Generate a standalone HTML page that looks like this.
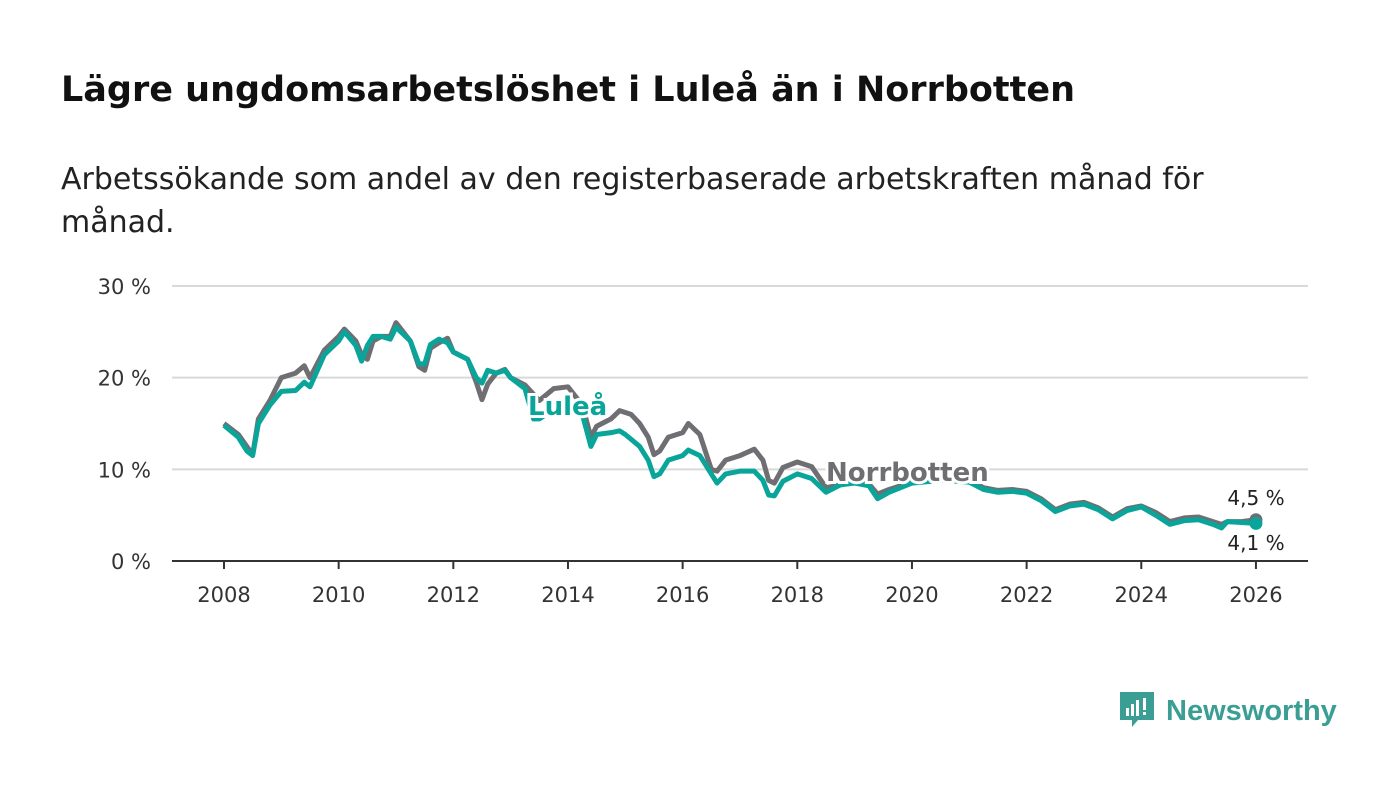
<!DOCTYPE html>
<html><head><meta charset="utf-8"><style>
body{margin:0;width:1400px;height:794px;background:#fff;font-family:"DejaVu Sans","Liberation Sans",sans-serif;overflow:hidden}
h1{position:absolute;left:61px;top:70px;margin:0;font-size:35px;font-weight:bold;color:#111;letter-spacing:0px;white-space:nowrap}
p{position:absolute;left:61px;top:158px;margin:0;font-size:30px;line-height:43px;color:#222;width:1240px}
svg{position:absolute;left:0;top:0}
</style></head><body>
<h1>Lägre ungdomsarbetslöshet i Luleå än i Norrbotten</h1>
<p>Arbetssökande som andel av den registerbaserade arbetskraften månad för månad.</p>
<svg id="c" width="1400" height="794"></svg>
<script>
const yearsL=[2008,2008.25,2008.4,2008.5,2008.6,2008.8,2009,2009.25,2009.4,2009.5,2009.75,2010,2010.1,2010.3,2010.4,2010.5,2010.6,2010.75,2010.9,2011,2011.25,2011.4,2011.5,2011.6,2011.75,2011.9,2012,2012.25,2012.4,2012.5,2012.6,2012.75,2012.9,2013,2013.25,2013.4,2013.5,2013.75,2014,2014.25,2014.4,2014.5,2014.75,2014.9,2015,2015.25,2015.4,2015.5,2015.6,2015.75,2016,2016.1,2016.3,2016.5,2016.6,2016.75,2017,2017.25,2017.4,2017.5,2017.6,2017.75,2018,2018.25,2018.5,2018.75,2019,2019.25,2019.4,2019.6,2020,2020.5,2021,2021.25,2021.5,2021.75,2022,2022.25,2022.5,2022.75,2023,2023.25,2023.5,2023.75,2024,2024.25,2024.5,2024.75,2025,2025.25,2025.4,2025.5,2025.75,2026];
const lulea=[14.8,13.5,12,11.5,15,17,18.5,18.6,19.5,19,22.5,24,25,23.5,21.8,23.5,24.5,24.5,24.2,25.5,24,21.5,21.5,23.6,24.2,23.8,22.8,22,20,19.4,20.8,20.5,20.8,20,18.8,15.5,15.5,16.5,17,16,12.5,13.8,14,14.2,13.8,12.5,11,9.2,9.5,11,11.5,12.1,11.5,9.5,8.5,9.5,9.8,9.8,8.8,7.2,7.1,8.7,9.5,9,7.5,8.3,8.5,8.2,6.8,7.5,8.5,8.8,8.6,7.8,7.5,7.6,7.4,6.6,5.4,6,6.2,5.6,4.6,5.5,5.9,5,4,4.4,4.5,4,3.6,4.3,4.2,4.1];
const yearsN=[2008,2008.25,2008.5,2008.6,2008.8,2009,2009.25,2009.4,2009.5,2009.75,2010,2010.1,2010.3,2010.4,2010.5,2010.6,2010.75,2010.9,2011,2011.25,2011.4,2011.5,2011.6,2011.75,2011.9,2012,2012.25,2012.4,2012.5,2012.6,2012.75,2012.9,2013,2013.25,2013.5,2013.75,2014,2014.25,2014.4,2014.5,2014.75,2014.9,2015.1,2015.25,2015.4,2015.5,2015.6,2015.75,2016,2016.1,2016.3,2016.5,2016.6,2016.75,2017,2017.25,2017.4,2017.5,2017.6,2017.75,2018,2018.25,2018.5,2018.75,2019,2019.25,2019.4,2019.6,2020,2020.5,2021,2021.25,2021.5,2021.75,2022,2022.25,2022.5,2022.75,2023,2023.25,2023.5,2023.75,2024,2024.25,2024.5,2024.75,2025,2025.25,2025.4,2025.5,2025.75,2026];
const norrbotten=[15,13.8,11.6,15.5,17.5,20,20.5,21.3,20,23,24.5,25.3,24,22.5,22,24,24.5,24.5,26,24,21.2,20.8,23.2,23.8,24.3,22.8,22,19.5,17.6,19.3,20.5,20.9,20,19.2,17.5,18.8,19,17,13.5,14.7,15.5,16.4,16,15,13.5,11.6,12,13.5,14,15,13.8,10,9.8,11,11.5,12.2,11,8.8,8.5,10.2,10.8,10.3,8,8.3,8.6,8.4,7.3,7.8,8.6,9,8.8,8,7.7,7.8,7.6,6.8,5.6,6.2,6.4,5.8,4.8,5.7,6,5.3,4.3,4.7,4.8,4.3,4,4.3,4.3,4.5];
const yTicks=[0,10,20,30];
const xTicks=[2008,2010,2012,2014,2016,2018,2020,2022,2024,2026];
const NS='http://www.w3.org/2000/svg',svg=document.getElementById('c');
const X=y=>224+(y-2008)*57.33, Y=v=>561-v*9.167;
function el(t,a,txt){const e=document.createElementNS(NS,t);for(const k in a)e.setAttribute(k,a[k]);if(txt!=null)e.textContent=txt;svg.appendChild(e);return e;}
yTicks.forEach(t=>{
 const g=el('line',{x1:172,x2:1308,y1:Y(t),y2:Y(t),stroke:t?'#d9d9d9':'#333','stroke-width':2});
 
 
 const l=el('text',{x:151,y:Y(t)+8,'text-anchor':'end','font-size':21,fill:'#333'},t+' %');
 
 
});
xTicks.forEach(t=>{
 const k=el('line',{x1:X(t),x2:X(t),y1:561,y2:569,stroke:'#333','stroke-width':2});
 
 
 const l=el('text',{x:X(t),y:602,'text-anchor':'middle','font-size':21,fill:'#333'},t);
 
 
});
function line(xs,vs,col,name){
 const p=el('polyline',{points:xs.map((x,i)=>X(x)+','+Y(vs[i])).join(' '),fill:'none',stroke:col,'stroke-width':5,'stroke-linejoin':'round'});
 
 
 const d=el('circle',{cx:X(xs[xs.length-1]),cy:Y(vs[vs.length-1]),r:6.5,fill:col});
 
 
}
line(yearsN,norrbotten,'#6f6e73','norrbotten-line');
line(yearsL,lulea,'#0aa59a','lulea-line');
const l1=el('text',{x:528,y:415,'font-size':26,'font-weight':'bold',fill:'#0aa59a',stroke:'#fff','stroke-width':6,'paint-order':'stroke'},'Luleå');


const l2=el('text',{x:826,y:481,'font-size':26,'font-weight':'bold',fill:'#6f6e73',stroke:'#fff','stroke-width':6,'paint-order':'stroke'},'Norrbotten');


const v1=el('text',{x:1256,y:505,'text-anchor':'middle','font-size':20,fill:'#222',stroke:'#fff','stroke-width':4,'paint-order':'stroke'},'4,5 %');


const v2=el('text',{x:1256,y:550,'text-anchor':'middle','font-size':20,fill:'#222',stroke:'#fff','stroke-width':4,'paint-order':'stroke'},'4,1 %');


</script>
<svg width="1400" height="794" style="pointer-events:none">
<path d="M1120 692h34v28h-16l-6 7v-7h-12z" fill="#3a9e94"/>
<rect x="1126" y="708" width="3" height="8" fill="#fff"/><rect x="1131" y="704" width="3" height="12" fill="#fff"/><rect x="1136" y="700" width="3" height="16" fill="#fff"/><rect x="1143" y="698" width="3" height="12" fill="#fff"/><rect x="1143" y="712" width="3" height="3" fill="#fff"/>
<text x="1166" y="720" font-size="29" font-weight="bold" fill="#3a9e94" font-family="Liberation Sans">Newsworthy</text>
</svg>
</body></html>
